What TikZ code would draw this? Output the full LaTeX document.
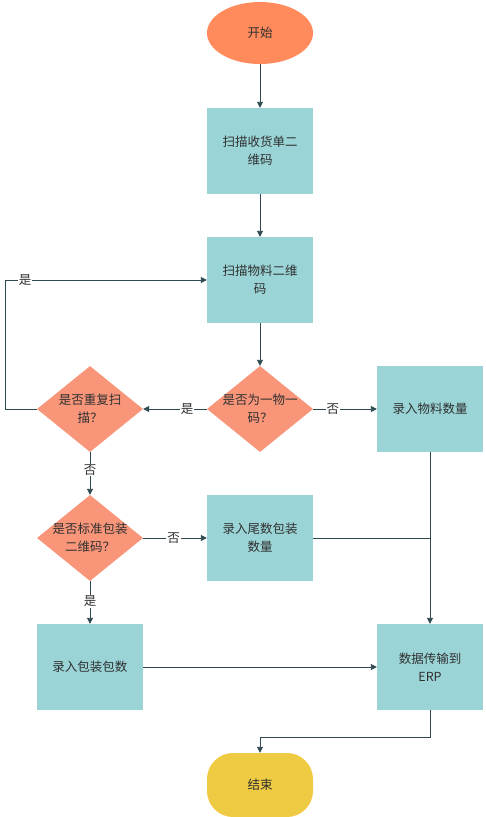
\documentclass[tikz,border=0pt]{standalone}
\usepackage{fontspec}
\setmainfont{Noto Sans CJK SC}
\usetikzlibrary{shapes.geometric,arrows.meta}
\definecolor{boxc}{HTML}{9AD4D6}
\definecolor{startc}{HTML}{FF8A5B}
\definecolor{decc}{HTML}{F9967A}
\definecolor{endc}{HTML}{EECB43}
\definecolor{linec}{HTML}{2E4A50}
\definecolor{txtc}{HTML}{303030}
\tikzset{
  base/.style={inner sep=0pt, font=\fontsize{12.5}{18}\selectfont, text=txtc, align=center},
  procbox/.style={base, rectangle, fill=boxc, minimum width=106pt, minimum height=86pt, text width=92pt},
  decbox/.style={base, diamond, fill=decc, minimum width=106pt, minimum height=86pt, aspect=1.23},
  dectext/.style={base},
  startbox/.style={base, ellipse, fill=startc, minimum width=106pt, minimum height=62pt},
  endbox/.style={base, rectangle, rounded corners=26pt, fill=endc, minimum width=106pt, minimum height=64pt},
  conn/.style={draw=linec, line width=0.9pt, -{Triangle[width=6pt,length=6pt]}},
  plain/.style={draw=linec, line width=0.9pt},
  lbl/.style={fill=white, inner sep=1pt, font=\fontsize{12.5}{14}\selectfont, text=txtc}
}
\begin{document}
\begin{tikzpicture}[x=1pt,y=-1pt]
\useasboundingbox (0,0) rectangle (485,817);
\node[startbox] (start) at (260,33) {开始};
\node[procbox] (scan1) at (260,151) {扫描收货单二\\维码};
\node[procbox] (scan2) at (260,280) {扫描物料二维\\码};
\node[decbox] (d1) at (260,409) {};
\node[dectext] (d1t) at (d1) {是否为一物一\\码？};
\node[decbox] (d2) at (90,409) {};
\node[dectext] (d2t) at (d2) {是否重复扫\\描？};
\node[procbox] (qty) at (430,409) {录入物料数量};
\node[decbox] (d3) at (90,538) {};
\node[dectext] (d3t) at (d3) {是否标准包装\\二维码？};
\node[procbox] (tail) at (260,538) {录入尾数包装\\数量};
\node[procbox] (pack) at (90,667) {录入包装包数};
\node[procbox] (erp) at (430,667) {数据传输到\\ERP};
\node[endbox] (end) at (260,785) {结束};
\coordinate (loopL) at (5,409);
\coordinate (loopT) at (5,280);
\coordinate (join) at (430,538);
\coordinate (e1) at (430,737);
\coordinate (e2) at (260,737);

\draw[conn] (start) -- (scan1);
\draw[conn] (scan1) -- (scan2);
\draw[conn] (scan2) -- (d1);
\draw[conn] (d1) -- node[lbl, pos=0.31] {是} (d2);
\draw[conn] (d1) -- node[lbl, pos=0.31] {否} (qty);
\draw[conn] (d2.west) -- (loopL) -- (loopT) -- node[lbl, pos=0.1] {是} (scan2.west);
\draw[conn] (d2) -- node[lbl, pos=0.42] {否} (d3);
\draw[conn] (d3) -- node[lbl, pos=0.48] {否} (tail);
\draw[conn] (d3) -- node[lbl, pos=0.47] {是} (pack);
\draw[conn] (pack) -- (erp);
\draw[conn] (qty) -- (erp);
\draw[plain] (tail.east) -- (join);
\draw[conn] (erp.south) -- (e1) -- (e2) -- (end.north);
\end{tikzpicture}
\end{document}
